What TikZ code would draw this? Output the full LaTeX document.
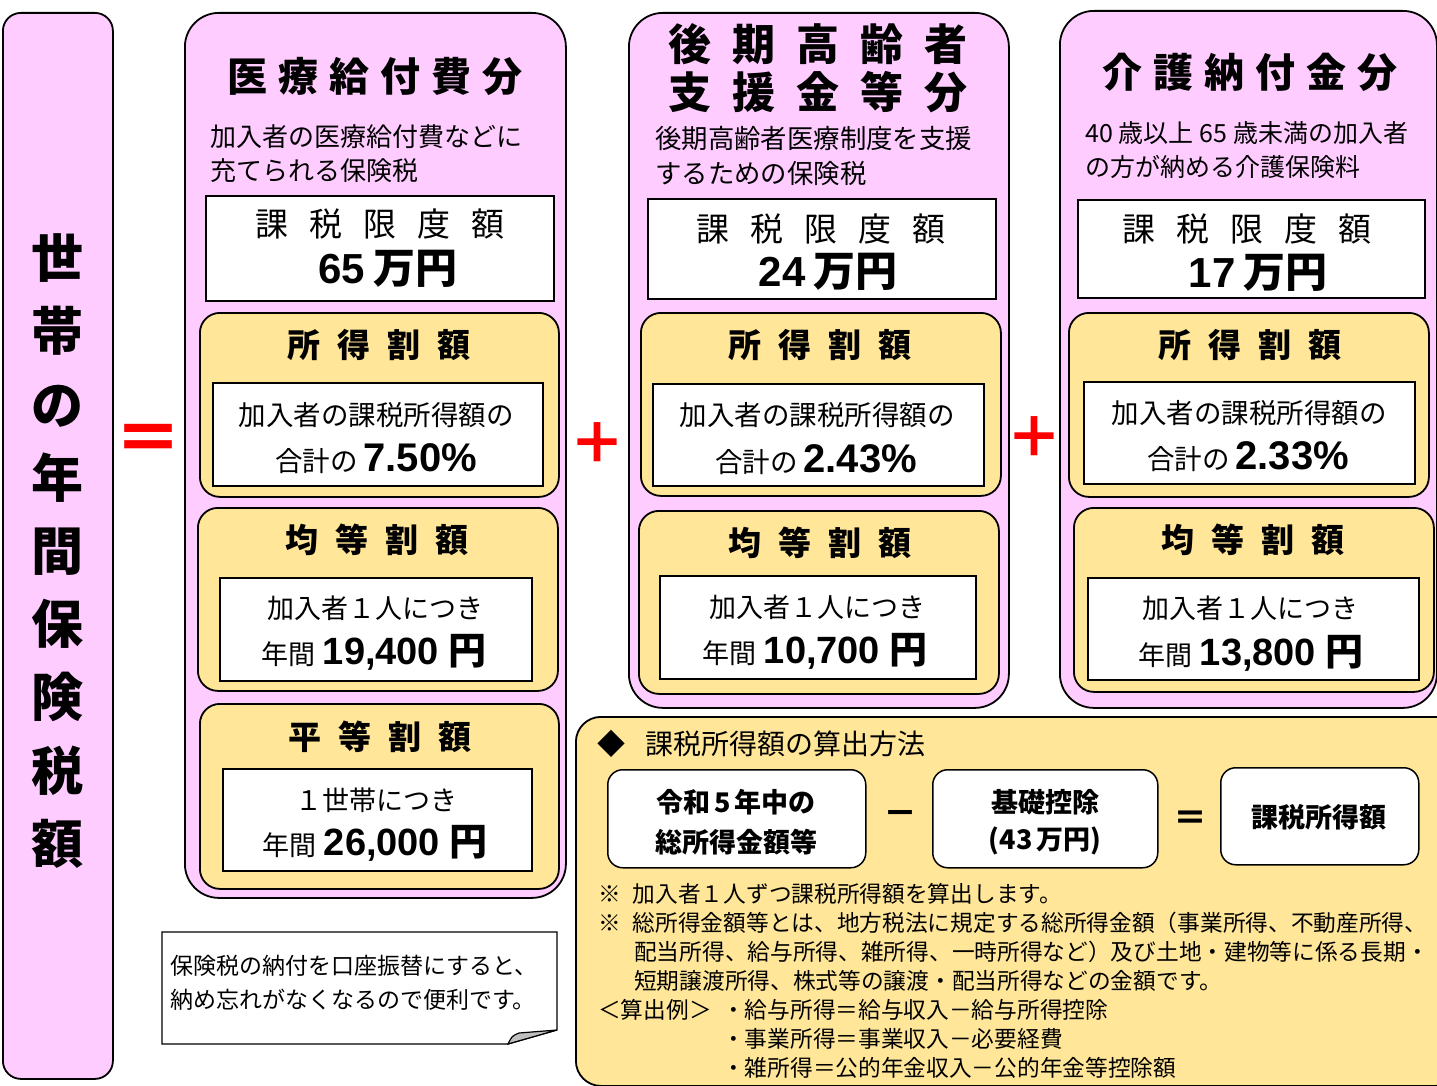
\documentclass[tikz,border=0pt]{standalone}
\usepackage{fontspec}
\setmainfont{Liberation Sans}
\newfontfamily\jp{Noto Sans CJK JP}
\definecolor{pinkc}{HTML}{FFCCFF}
\definecolor{yelc}{HTML}{FFE699}
\newcommand\fs[1]{\fontsize{#1}{#1}\selectfont}
\newcommand\gp[1]{\hspace{#1pt}}
\tikzset{
  pinkbox/.style={draw=black, line width=1.8pt, fill=pinkc, rounded corners=34pt, anchor=north west, inner sep=0pt},
  yelbox/.style={draw=black, line width=1.8pt, fill=yelc, rounded corners=20pt, anchor=north west, inner sep=0pt},
  whitebox/.style={draw=black, line width=1.8pt, fill=white, anchor=north west, inner sep=0pt},
  formbox/.style={draw=black, line width=1.5pt, fill=white, rounded corners=15pt, anchor=north west, inner sep=0pt},
  jt/.style={inner sep=0pt, font={\jp\fs{#1}}},
  jb/.style={inner sep=0pt, font={\jp\bfseries\fs{#1}}},
  amt/.style={inner sep=0pt, font={\bfseries\fs{42}}},
  note/.style={inner sep=0pt, anchor=west, font={\jp\fs{22.7}}},
  redsign/.style={inner sep=0pt, text=red, font={\jp\bfseries\fs{#1}}}
}
\begin{document}
\begin{tikzpicture}[x=1pt,y=-1pt]
\useasboundingbox (0,0) rectangle (1437,1086);
\clip (0,0) rectangle (1437,1086);

% left box
\node[pinkbox, rounded corners=18pt, minimum width=110pt, minimum height=1066pt] (left) at (2,12) {};
\node[inner sep=0pt, align=center, font={\jp\bfseries\fontsize{52}{73.2}\selectfont}] (lefttxt) at (57,551) {世\\帯\\の\\年\\間\\保\\険\\税\\額};

% signs
\node[redsign=68] (eq) at (148,444) {＝};
\node[redsign=56] (plus1) at (597,443) {＋};
\node[redsign=56] (plus2) at (1034,437) {＋};

% column 1
\node[pinkbox, minimum width=381pt, minimum height=885pt] (c1) at (184,12) {};
\node[jb=40] (c1t) at (375,76) {医\gp{11}療\gp{11}給\gp{11}付\gp{11}費\gp{11}分};
\node[jt=26, anchor=west] (c1d1) at (210,137) {加入者の医療給付費などに};
\node[jt=26, anchor=west] (c1d2) at (210,171) {充てられる保険税};
\node[whitebox, minimum width=348pt, minimum height=105pt] (w1) at (205,195) {};
\node[jt=33] (w1a) at (380,224) {課\gp{21}税\gp{21}限\gp{21}度\gp{21}額};
\node[amt] (w1b) at (388,269) {65\gp{8}{\jp 万円}};

\node[yelbox, minimum width=359pt, minimum height=184pt] (y1a) at (199,312) {};
\node[jb=33] (y1at) at (379,345) {所\gp{17}得\gp{17}割\gp{17}額};
\node[whitebox, minimum width=330pt, minimum height=103pt] (i1a) at (212,382) {};
\node[jt=27.5] (i1a1) at (376,415) {加入者の課税所得額の};
\node[jt=27.5] (i1a2) at (376,459) {合計の\gp{6}{\rmfamily\bfseries\fs{40}7.50\%}};

\node[yelbox, minimum width=360pt, minimum height=183pt] (y1b) at (197,507) {};
\node[jb=33] (y1bt) at (377,540) {均\gp{17}等\gp{17}割\gp{17}額};
\node[whitebox, minimum width=312pt, minimum height=103pt] (i1b) at (219,577) {};
\node[jt=27] (i1b1) at (375,608) {加入者１人につき};
\node[jt=27] (i1b2) at (374,652) {年間\gp{7}{\rmfamily\bfseries\fs{38}19,400\gp{9}{\jp 円}}};

\node[yelbox, minimum width=359pt, minimum height=185pt] (y1c) at (199,703) {};
\node[jb=33] (y1ct) at (380,737) {平\gp{17}等\gp{17}割\gp{17}額};
\node[whitebox, minimum width=309pt, minimum height=102pt] (i1c) at (222,768) {};
\node[jt=27] (i1c1) at (376,800) {１世帯につき};
\node[jt=27] (i1c2) at (375,843) {年間\gp{7}{\rmfamily\bfseries\fs{38}26,000\gp{9}{\jp 円}}};

% column 2
\node[pinkbox, minimum width=380pt, minimum height=695pt] (c2) at (628,12) {};
\node[jb=43] (c2t1) at (818,44) {後\gp{21}期\gp{21}高\gp{21}齢\gp{21}者};
\node[jb=43] (c2t2) at (818,92) {支\gp{21}援\gp{21}金\gp{21}等\gp{21}分};
\node[jt=26.4, anchor=west] (c2d1) at (655,139) {後期高齢者医療制度を支援};
\node[jt=26.4, anchor=west] (c2d2) at (655,174) {するための保険税};
\node[whitebox, minimum width=348pt, minimum height=100pt] (w2) at (647,198) {};
\node[jt=33] (w2a) at (821,229) {課\gp{21}税\gp{21}限\gp{21}度\gp{21}額};
\node[amt] (w2b) at (828,272) {24\gp{8}{\jp 万円}};

\node[yelbox, minimum width=360pt, minimum height=183pt] (y2a) at (640,312) {};
\node[jb=33] (y2at) at (820,345) {所\gp{17}得\gp{17}割\gp{17}額};
\node[whitebox, minimum width=331pt, minimum height=102pt] (i2a) at (652,383) {};
\node[jt=27.5] (i2a1) at (817,415) {加入者の課税所得額の};
\node[jt=27.5] (i2a2) at (816,460) {合計の\gp{6}{\rmfamily\bfseries\fs{40}2.43\%}};

\node[yelbox, minimum width=360pt, minimum height=183pt] (y2b) at (638,510) {};
\node[jb=33] (y2bt) at (820,543) {均\gp{17}等\gp{17}割\gp{17}額};
\node[whitebox, minimum width=316pt, minimum height=103pt] (i2b) at (659,575) {};
\node[jt=27] (i2b1) at (817,607) {加入者１人につき};
\node[jt=27] (i2b2) at (815,651) {年間\gp{7}{\rmfamily\bfseries\fs{38}10,700\gp{9}{\jp 円}}};

% column 3
\node[pinkbox, minimum width=377pt, minimum height=697pt] (c3) at (1059,10) {};
\node[jb=40] (c3t) at (1250,72) {介\gp{11}護\gp{11}納\gp{11}付\gp{11}金\gp{11}分};
\node[jt=25, anchor=west] (c3d1) at (1085,133) {40\gp{6}歳以上\gp{6}65\gp{6}歳未満の加入者};
\node[jt=25, anchor=west] (c3d2) at (1085,167) {の方が納める介護保険料};
\node[whitebox, minimum width=347pt, minimum height=98pt] (w3) at (1077,199) {};
\node[jt=33] (w3a) at (1247,229) {課\gp{21}税\gp{21}限\gp{21}度\gp{21}額};
\node[amt] (w3b) at (1258,273) {17\gp{8}{\jp 万円}};

\node[yelbox, minimum width=360pt, minimum height=184pt] (y3a) at (1068,312) {};
\node[jb=33] (y3at) at (1250,345) {所\gp{17}得\gp{17}割\gp{17}額};
\node[whitebox, minimum width=331pt, minimum height=102pt] (i3a) at (1083,381) {};
\node[jt=27.5] (i3a1) at (1249,413) {加入者の課税所得額の};
\node[jt=27.5] (i3a2) at (1248,457) {合計の\gp{6}{\rmfamily\bfseries\fs{40}2.33\%}};

\node[yelbox, minimum width=360pt, minimum height=184pt] (y3b) at (1073,507) {};
\node[jb=33] (y3bt) at (1253,540) {均\gp{17}等\gp{17}割\gp{17}額};
\node[whitebox, minimum width=331pt, minimum height=102pt] (i3b) at (1087,577) {};
\node[jt=27] (i3b1) at (1250,608) {加入者１人につき};
\node[jt=27] (i3b2) at (1251,653) {年間\gp{7}{\rmfamily\bfseries\fs{38}13,800\gp{9}{\jp 円}}};

% bottom box
\node[yelbox, rounded corners=25pt, minimum width=885pt, minimum height=369pt] (bb) at (575,716) {};
\node[jt=28, anchor=west] (bbt) at (597,744) {◆\gp{20}課税所得額の算出方法};
\node[formbox, minimum width=258pt, minimum height=98pt] (fa) at (607,769) {};
\node[jb=27] (fa1) at (736,802) {令和\gp{4}5\gp{4}年中の};
\node[jb=27] (fa2) at (736,842) {総所得金額等};
\node[jb=34] (minus) at (900,818) {－};
\node[formbox, minimum width=225pt, minimum height=98pt] (fb) at (932,769) {};
\node[jb=27] (fb1) at (1045,802) {基礎控除};
\node[jb=27] (fb2) at (1045,841) {(43\gp{4}万円)};
\node[jb=34] (equal) at (1190,821) {＝};
\node[formbox, minimum width=198pt, minimum height=97pt] (fc) at (1220,767) {};
\node[jb=27] (fc1) at (1319,817) {課税所得額};

\node[note] (n1) at (598,894) {※\gp{12}加入者１人ずつ課税所得額を算出します。};
\node[note] (n2) at (598,923) {※\gp{12}総所得金額等とは、地方税法に規定する総所得金額（事業所得、不動産所得、};
\node[note] (n3) at (634,952) {配当所得、給与所得、雑所得、一時所得など）及び土地・建物等に係る長期・};
\node[note] (n4) at (634,981) {短期譲渡所得、株式等の譲渡・配当所得などの金額です。};
\node[note] (n5) at (598,1010) {＜算出例＞};
\node[note] (n6) at (722,1010) {・給与所得＝給与収入－給与所得控除};
\node[note] (n7) at (722,1039) {・事業所得＝事業収入－必要経費};
\node[note] (n8) at (722,1068) {・雑所得＝公的年金収入－公的年金等控除額};

% memo note with folded corner
\draw[line width=1.2pt, fill=white] (162,932) -- (557,932) -- (557,1030) -- (508,1044) -- (162,1044) -- cycle;
\draw[line width=1.2pt, fill=black!25] (508,1044) .. controls (512,1036) .. (519,1033) -- (557,1030) -- cycle;
\node[jt=23, anchor=west] (memo1) at (170,966) {保険税の納付を口座振替にすると、};
\node[jt=23, anchor=west] (memo2) at (170,1000) {納め忘れがなくなるので便利です。};
\end{tikzpicture}
\end{document}
